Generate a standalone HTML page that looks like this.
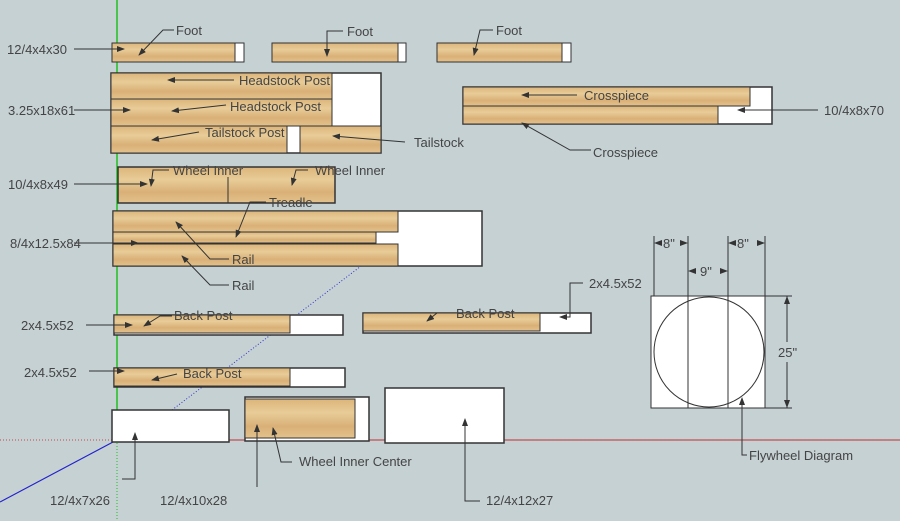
<!DOCTYPE html>
<html><head><meta charset="utf-8"><style>
html,body{margin:0;padding:0;background:#c6d1d4;}
svg{display:block;font-family:"Liberation Sans",sans-serif;}
text{font-size:13px;fill:#444;}
</style></head><body>
<svg width="900" height="521" viewBox="0 0 900 521" xmlns="http://www.w3.org/2000/svg">
<defs>
<marker id="a" markerWidth="8" markerHeight="6" refX="7" refY="3" orient="auto" markerUnits="userSpaceOnUse"><path d="M0,0 L8,3 L0,6z" fill="#333"/></marker>
<linearGradient id="w" x1="0" y1="0" x2="0" y2="1">
<stop offset="0" stop-color="#dcb57a"/><stop offset="0.35" stop-color="#e8cc98"/><stop offset="0.7" stop-color="#d9b077"/><stop offset="1" stop-color="#e3c28c"/></linearGradient>
</defs>
<rect width="900" height="521" fill="#c6d1d4"/>
<!-- axes -->
<line x1="117" y1="0" x2="117" y2="440" stroke="#22c022" stroke-width="1.5"/>
<line x1="117" y1="440" x2="117" y2="521" stroke="#22c022" stroke-dasharray="1,2"/>
<line x1="0" y1="440" x2="112" y2="440" stroke="#c44" stroke-dasharray="1,2"/>
<line x1="112" y1="440" x2="900" y2="440" stroke="#c03030"/>
<line x1="0" y1="502" x2="113" y2="442" stroke="#2222cc" stroke-width="1.2"/>
<line x1="172" y1="410" x2="432" y2="212" stroke="#3333cc" stroke-dasharray="1,2"/>
<g stroke="#333" stroke-width="1">
<!-- feet -->
<rect x="112" y="43" width="132" height="19" fill="url(#w)"/><rect x="235" y="43" width="9" height="19" fill="#fff"/>
<rect x="272" y="43" width="134" height="19" fill="url(#w)"/><rect x="398" y="43" width="8" height="19" fill="#fff"/>
<rect x="437" y="43" width="134" height="19" fill="url(#w)"/><rect x="562" y="43" width="9" height="19" fill="#fff"/>
<!-- big block -->
<rect x="111" y="73" width="270" height="80" fill="#fff" stroke-width="1.5"/>
<rect x="111" y="73" width="221" height="26" fill="url(#w)"/>
<rect x="111" y="99" width="221" height="27" fill="url(#w)"/>
<rect x="111" y="126" width="176" height="27" fill="url(#w)"/>
<rect x="300" y="126" width="81" height="27" fill="url(#w)"/>
<!-- crosspiece -->
<rect x="463" y="87" width="309" height="37" fill="#fff" stroke-width="1.5"/>
<rect x="463" y="87" width="287" height="19" fill="url(#w)"/>
<rect x="463" y="106" width="255" height="18" fill="url(#w)"/>
<!-- wheel inner -->
<rect x="118" y="167" width="217" height="36" fill="url(#w)" stroke-width="1.5"/>
<line x1="228" y1="177" x2="228" y2="203"/>
<!-- treadle -->
<rect x="113" y="211" width="369" height="55" fill="#fff" stroke-width="1.5"/>
<rect x="113" y="211" width="285" height="21" fill="url(#w)"/>
<rect x="113" y="232" width="263" height="11" fill="url(#w)"/>
<rect x="113" y="244" width="285" height="22" fill="url(#w)"/>
<!-- back posts -->
<rect x="114" y="315" width="229" height="20" fill="#fff" stroke-width="1.5"/><rect x="114" y="315" width="176" height="18" fill="url(#w)"/>
<rect x="363" y="313" width="228" height="20" fill="#fff" stroke-width="1.5"/><rect x="363" y="313" width="177" height="18" fill="url(#w)"/>
<rect x="114" y="368" width="231" height="19" fill="#fff" stroke-width="1.5"/><rect x="114" y="368" width="176" height="18" fill="url(#w)"/>
<!-- bottom -->
<rect x="112" y="410" width="117" height="32" fill="#fff" stroke-width="1.5"/>
<rect x="245" y="397" width="124" height="44" fill="#fff" stroke-width="1.5"/><rect x="245" y="399" width="110" height="39" fill="url(#w)"/>
<rect x="385" y="388" width="119" height="55" fill="#fff" stroke-width="1.5"/>
<!-- flywheel -->
<rect x="651" y="296" width="114" height="112" fill="#fff"/>
<line x1="688" y1="296" x2="688" y2="408"/><line x1="728" y1="296" x2="728" y2="408"/>
<circle cx="709" cy="352" r="55" fill="none"/>
<line x1="654" y1="236" x2="654" y2="296"/><line x1="688" y1="236" x2="688" y2="296"/>
<line x1="728" y1="236" x2="728" y2="296"/><line x1="765" y1="236" x2="765" y2="296"/>
<line x1="765" y1="296" x2="792" y2="296"/><line x1="765" y1="408" x2="792" y2="408"/>
<line x1="787" y1="296" x2="787" y2="342"/><line x1="787" y1="362" x2="787" y2="408"/>
</g>
<g fill="#333">
<path d="M654,243 l8,-3 v6z M688,243 l-8,-3 v6z M728,243 l8,-3 v6z M765,243 l-8,-3 v6z M688,271 l8,-3 v6z M728,271 l-8,-3 v6z M787,296 l-3,8 h6z M787,408 l-3,-8 h6z"/>
</g>
<g fill="none" stroke="#333" stroke-width="1" marker-end="url(#a)">
<path d="M74,49 H124"/><path d="M174,30 H163 L139,55"/><path d="M343,31 H327 V56"/><path d="M493,30 H480 L474,55"/>
<path d="M234,80 H168"/><path d="M226,105 L172,111"/><path d="M74,110 H130"/><path d="M199,132 L152,140"/><path d="M405,142 L333,136"/>
<path d="M577,95 H522"/><path d="M591,150 H570 L522,123"/><path d="M818,110 H738"/><path d="M74,184 H147"/>
<path d="M169,170 H153 L151,186"/><path d="M308,170 H296 L292,185"/><path d="M266,202 H250 L236,237"/>
<path d="M74,243 H138"/><path d="M229,259 H210 L176,222"/><path d="M229,285 H210 L182,256"/>
<path d="M86,325 H132"/><path d="M172,316 H160 L144,326"/><path d="M89,371 H124"/><path d="M177,374 L152,380"/>
<path d="M452,313 H437 L427,321"/><path d="M583,283 H570 V317 H560"/>
<path d="M122,479 H135 V433"/><path d="M257,487 V425"/><path d="M292,462 H281 L273,428"/><path d="M480,501 H465 V419"/><path d="M747,455 H742 V398"/>
</g>
<g>
<text x="7" y="54">12/4x4x30</text><text x="176" y="35">Foot</text><text x="347" y="36">Foot</text><text x="496" y="35">Foot</text>
<text x="8" y="115">3.25x18x61</text><text x="239" y="85">Headstock Post</text><text x="230" y="111">Headstock Post</text><text x="205" y="137">Tailstock Post</text><text x="414" y="147">Tailstock</text>
<text x="584" y="100">Crosspiece</text><text x="593" y="157">Crosspiece</text><text x="824" y="115">10/4x8x70</text>
<text x="8" y="189">10/4x8x49</text><text x="173" y="175">Wheel Inner</text><text x="315" y="175">Wheel Inner</text><text x="269" y="207">Treadle</text>
<text x="10" y="248">8/4x12.5x84</text><text x="232" y="264">Rail</text><text x="232" y="290">Rail</text>
<text x="21" y="330">2x4.5x52</text><text x="174" y="320">Back Post</text><text x="456" y="318">Back Post</text><text x="589" y="288">2x4.5x52</text>
<text x="24" y="377">2x4.5x52</text><text x="183" y="378">Back Post</text>
<text x="299" y="466">Wheel Inner Center</text><text x="50" y="505">12/4x7x26</text><text x="160" y="505">12/4x10x28</text><text x="486" y="505">12/4x12x27</text>
<text x="749" y="460">Flywheel Diagram</text>
<text x="663" y="248">8"</text><text x="737" y="248">8"</text><text x="700" y="276">9"</text><text x="778" y="357">25"</text>
</g>
</svg>
</body></html>
